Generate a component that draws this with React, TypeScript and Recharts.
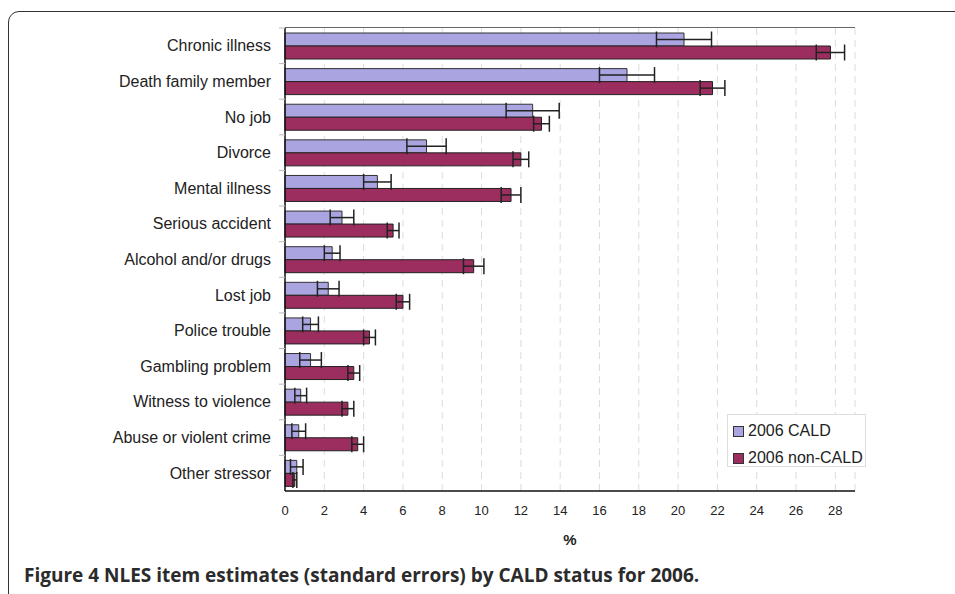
import React from 'react';
import { BarChart, Bar, XAxis, YAxis, CartesianGrid, Legend, ErrorBar } from 'recharts';

// NLES item estimates by CALD status, 2006 (%)
const categories = [
  'Chronic illness',
  'Death family member',
  'No job',
  'Divorce',
  'Mental illness',
  'Serious accident',
  'Alcohol and/or drugs',
  'Lost job',
  'Police trouble',
  'Gambling problem',
  'Witness to violence',
  'Abuse or violent crime',
  'Other stressor',
];
const cald = [20.3, 17.4, 12.6, 7.2, 4.7, 2.9, 2.4, 2.2, 1.3, 1.3, 0.8, 0.7, 0.6];
const caldSE = [1.4, 1.4, 1.35, 1.0, 0.7, 0.6, 0.4, 0.55, 0.4, 0.55, 0.3, 0.35, 0.32];
const nonCald = [27.75, 21.75, 13.05, 12.0, 11.5, 5.5, 9.6, 6.0, 4.3, 3.5, 3.2, 3.7, 0.5];
const nonCaldSE = [0.72, 0.63, 0.4, 0.4, 0.5, 0.3, 0.52, 0.34, 0.3, 0.3, 0.3, 0.3, 0.1];
const xTicks = [0, 2, 4, 6, 8, 10, 12, 14, 16, 18, 20, 22, 24, 26, 28];

const seriesNames = ['2006 CALD', '2006 non-CALD'];
const CALD_COLOR = '#aaa4e0';
const NON_CALD_COLOR = '#9b2e5e';

const data = categories.map((name, i) => ({
  name,
  cald: cald[i],
  caldSE: caldSE[i],
  nonCald: nonCald[i],
  nonCaldSE: nonCaldSE[i],
}));

const FONT = '"Liberation Sans", Arial, Helvetica, sans-serif';
const W = 955;
const H = 594;
const MARGIN = { top: 28, right: 100, left: 0, bottom: 43 };
const Y_AXIS_W = 285;

function CategoryTick(props: any) {
  const { x, y, payload } = props;
  const half = payload && payload.offset != null ? payload.offset : 17.8;
  return (
    <g>
      <text
        x={x}
        y={y}
        textAnchor="end"
        dominantBaseline="central"
        fontSize={16}
        fontFamily={FONT}
        fill="#222"
      >
        {payload.value}
      </text>
      <line x1={x + 8} x2={x + 14} y1={y - half} y2={y - half} stroke="#bbb" />
    </g>
  );
}

function LegendBox() {
  const colors = [CALD_COLOR, NON_CALD_COLOR];
  return (
    <div
      style={{
        width: 139,
        height: 53,
        boxSizing: 'border-box',
        background: '#fff',
        border: '1px solid #ddd',
        padding: '6px 0 0 5px',
        fontFamily: FONT,
        fontSize: 16,
        color: '#222',
      }}
    >
      {seriesNames.map((s, i) => (
        <div key={s} style={{ display: 'flex', alignItems: 'center', height: 20, marginBottom: i === 0 ? 7 : 0 }}>
          <span
            style={{
              display: 'inline-block',
              width: 9,
              height: 9,
              background: colors[i],
              border: '1px solid #333',
              marginRight: 4,
            }}
          />
          <span style={{ whiteSpace: 'nowrap' }}>{s}</span>
        </div>
      ))}
    </div>
  );
}

export default function App() {
  return (
    <div style={{ position: 'absolute', left: 0, top: 0, width: W, height: H, overflow: 'hidden', background: '#fff' }}>
      <div
        style={{
          position: 'absolute',
          left: 8,
          top: 11,
          width: 1000,
          height: 640,
          border: '1.5px solid #333',
          borderRadius: 11,
        }}
      />
      <div style={{ position: 'absolute', left: 0, top: 0 }}>
        <BarChart
          width={W}
          height={H}
          data={data}
          layout="vertical"
          margin={MARGIN}
          barCategoryGap={5}
          barGap={0}
        >
          <CartesianGrid horizontal={false} vertical stroke="#dcdcdc" strokeDasharray="7 5" />
          <XAxis
            type="number"
            domain={[0, 29]}
            ticks={xTicks}
            interval={0}
            height={60}
            tickLine={false}
            tickSize={0}
            tickMargin={15}
            axisLine={{ stroke: '#111', strokeWidth: 1.5 }}
            tick={{ fontSize: 13, fontFamily: FONT, fill: '#222' }}
            label={{ value: '%', position: 'insideBottom', offset: 6, fontSize: 15, fontWeight: 'bold', fontFamily: FONT, fill: '#222' }}
          />
          <YAxis
            type="category"
            dataKey="name"
            width={Y_AXIS_W}
            tickLine={false}
            tickSize={0}
            tickMargin={14}
            interval={0}
            axisLine={{ stroke: '#111', strokeWidth: 1.5 }}
            tick={<CategoryTick />}
          />
          <YAxis
            yAxisId="right"
            orientation="right"
            type="category"
            dataKey="name"
            width={0}
            tick={false}
            tickLine={false}
            axisLine={{ stroke: '#111', strokeWidth: 1.5 }}
          />
          <Legend
            layout="horizontal"
            verticalAlign="middle"
            align="center"
            content={<LegendBox />}
            wrapperStyle={{ left: 727, top: 414, width: 139, height: 53 }}
          />
          <Bar dataKey="cald" name={seriesNames[0]} fill={CALD_COLOR} stroke="#333" strokeWidth={1} isAnimationActive={false}>
            <ErrorBar dataKey="caldSE" direction="x" width={8} stroke="#222" strokeWidth={1.5} />
          </Bar>
          <Bar dataKey="nonCald" name={seriesNames[1]} fill={NON_CALD_COLOR} stroke="#222" strokeWidth={1} isAnimationActive={false}>
            <ErrorBar dataKey="nonCaldSE" direction="x" width={8} stroke="#222" strokeWidth={1.5} />
          </Bar>
        </BarChart>
      </div>
      {/* top frame line of the plot area */}
      <div
        style={{
          position: 'absolute',
          left: MARGIN.left + Y_AXIS_W,
          top: MARGIN.top - 1,
          width: W - MARGIN.right - MARGIN.left - Y_AXIS_W,
          borderTop: '1.5px solid #666',
          pointerEvents: 'none',
        }}
      />
      <div
        style={{
          position: 'absolute',
          left: 24,
          top: 562,
          fontFamily: '"Open Sans", "Noto Sans", sans-serif',
          fontWeight: 700,
          fontSize: 19,
          color: '#2b2b2b',
          whiteSpace: 'nowrap',
        }}
      >
        Figure 4 NLES item estimates (standard errors) by CALD status for 2006.
      </div>
    </div>
  );
}
